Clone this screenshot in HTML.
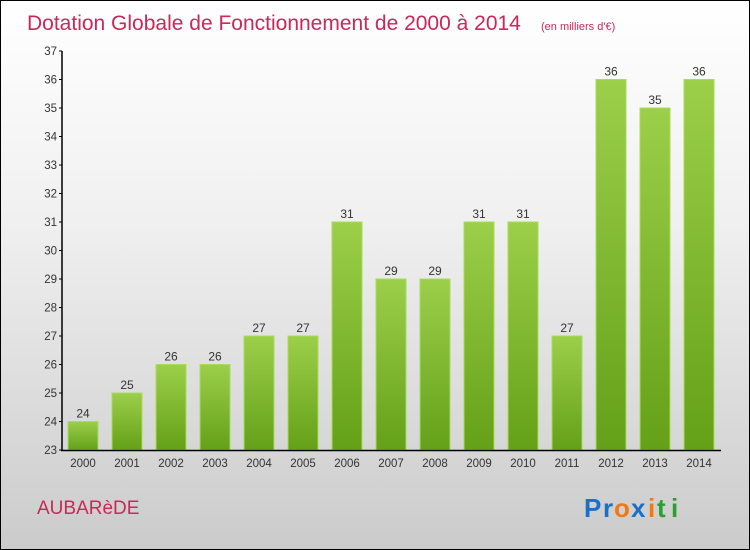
<!DOCTYPE html>
<html><head><meta charset="utf-8"><style>
body{margin:0}
#c{position:relative;width:748px;height:548px;border:1px solid #000;background:linear-gradient(#fff 0%,#f0f0f0 40%,#cbcbcb 100%);font-family:"Liberation Sans",sans-serif;overflow:hidden}
</style></head><body>
<div id="c">
<svg id="s" width="748" height="548" style="position:absolute;left:0;top:0">
<defs><linearGradient id="g" x1="0" y1="0" x2="0" y2="1"><stop offset="0" stop-color="#9ccf4a"/><stop offset="1" stop-color="#64a018"/></linearGradient></defs>
<text x="26" y="29" font-size="21" fill="#c8285a">Dotation Globale de Fonctionnement de 2000 à 2014</text>
<text x="540" y="29" font-size="11" fill="#c8285a">(en milliers d'€)</text>
<text x="36" y="513" font-size="19" fill="#c8285a">AUBARèDE</text>
<g font-size="26" font-weight="bold" font-family="'Liberation Sans',sans-serif">
<text x="583" y="516" fill="#1a6fc8">P</text><text x="602" y="516" fill="#1a6fc8">r</text><text x="613" y="516" fill="#f07a10">o</text><text x="630" y="516" fill="#1a6fc8">x</text><text x="647" y="516" fill="#f07a10">i</text><text x="656" y="516" fill="#2aa030">t</text><text x="670" y="516" fill="#2aa030">i</text></g>
</svg>
</div>
<script>
const years=["2000","2001","2002","2003","2004","2005","2006","2007","2008","2009","2010","2011","2012","2013","2014"];
const values=[24,25,26,26,27,27,31,29,29,31,31,27,36,35,36];
const yTicks=[23,24,25,26,27,28,29,30,31,32,33,34,35,36,37];
const svgEl=document.getElementById('s'),NS='http://www.w3.org/2000/svg';
const yMin=23,yMax=37,plotTop=50,plotBot=449;
function yS(v){return plotBot-(v-yMin)/(yMax-yMin)*(plotBot-plotTop);}
function xS(i){return 82+i*44;}
function mk(t,a,txt){const e=document.createElementNS(NS,t);for(const k in a)e.setAttribute(k,a[k]);if(txt!=null)e.textContent=txt;svgEl.appendChild(e);return e;}
values.forEach((v,i)=>{
const r=mk('rect',{x:xS(i)-15,y:yS(v),width:30,height:plotBot-yS(v),fill:'url(#g)',stroke:'#a8dc5a','stroke-width':1});


const t=mk('text',{x:xS(i),y:yS(v)-4,'font-size':12,fill:'#333','text-anchor':'middle'},v);


const xl=mk('text',{x:xS(i),y:466,'font-size':11.5,fill:'#333','text-anchor':'middle'},years[i]);


});
yTicks.forEach(v=>{
const tk=mk('line',{x1:58,x2:61,y1:yS(v),y2:yS(v),stroke:'#000'});


const l=mk('text',{x:56,y:yS(v)+4,'font-size':11.5,fill:'#333','text-anchor':'end'},v);


});
const ya=mk('line',{x1:61,x2:61,y1:plotTop,y2:plotBot+1,stroke:'#000','stroke-width':1.5});


const xa=mk('line',{x1:60,x2:720,y1:plotBot+0.5,y2:plotBot+0.5,stroke:'#000','stroke-width':1.5});


</script>
</body></html>
